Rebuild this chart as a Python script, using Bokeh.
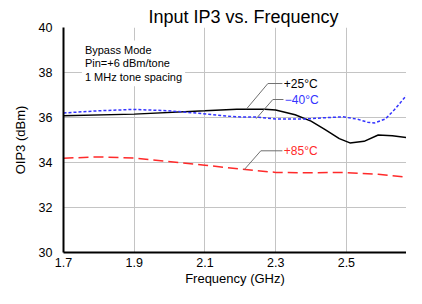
from bokeh.plotting import figure
from bokeh.models import Label, FixedTicker, Range1d
from bokeh.embed import file_html
from bokeh.resources import INLINE

# ---- data ----
f_25 = [1.70, 1.90, 2.10, 2.19, 2.27, 2.30, 2.355, 2.40, 2.44, 2.48, 2.51, 2.55, 2.59, 2.63, 2.70]
v_25 = [36.08, 36.15, 36.30, 36.37, 36.37, 36.33, 36.12, 35.84, 35.46, 35.06, 34.87, 34.94, 35.22, 35.19, 35.05]

f_m40 = [1.70, 1.80, 1.90, 1.995, 2.08, 2.15, 2.19, 2.245, 2.30, 2.38, 2.44, 2.49, 2.53, 2.56, 2.58, 2.61, 2.635, 2.665, 2.70]
v_m40 = [36.20, 36.30, 36.36, 36.30, 36.19, 36.08, 36.03, 36.02, 35.93, 35.93, 35.99, 36.03, 35.93, 35.79, 35.76, 35.93, 36.33, 36.89, 37.50]

f_85 = [1.70, 1.80, 1.90, 1.995, 2.10, 2.20, 2.30, 2.40, 2.49, 2.59, 2.70]
v_85 = [34.19, 34.25, 34.20, 34.05, 33.88, 33.71, 33.56, 33.54, 33.56, 33.48, 33.30]

x_ticks = [1.7, 1.9, 2.1, 2.3, 2.5, 2.7]
y_ticks = [30, 32, 34, 36, 38, 40]

# curve labels with leader lines (data units)
lab_text = ["+25°C", "\u221240°C", "+85°C"]
lab_color = ["#000000", "#3333ff", "#ff2a2a"]
lead_x = [[2.217, 2.278, 2.319], [2.245, 2.292, 2.322], [2.211, 2.258, 2.319]]
lead_y = [[36.37, 37.51, 37.51], [35.95, 36.80, 36.80], [33.68, 34.52, 34.52]]
note_lines = "Bypass Mode\nPin=+6 dBm/tone\n1 MHz tone spacing"

FONT = "Liberation Sans"

p = figure(width=406, height=288, output_backend="svg", toolbar_location=None,
           x_range=Range1d(1.7, 2.67), y_range=Range1d(30, 40),
           min_border_left=63, min_border_right=0, min_border_top=27, min_border_bottom=0,
           title="Input IP3 vs. Frequency")
p.outline_line_color = None
p.background_fill_color = "white"
p.border_fill_color = "white"

p.title.align = "left"
p.title.text_font = FONT
p.title.text_font_size = "18px"
p.title.text_font_style = "normal"
p.title.text_color = "#000000"
p.title.standoff = 2
p.title.offset = 85

for ax in (p.xaxis[0], p.yaxis[0]):
    ax.axis_line_color = "black"
    ax.axis_line_width = 2
    ax.major_tick_line_color = None
    ax.minor_tick_line_color = None
    ax.major_tick_out = 0
    ax.major_tick_in = 0
    ax.minor_tick_out = 0
    ax.major_label_text_font = FONT
    ax.major_label_text_font_size = "12.5px"
    ax.major_label_text_color = "#000000"
    ax.axis_label_text_font = FONT
    ax.axis_label_text_font_size = "13px"
    ax.axis_label_text_font_style = "normal"
    ax.axis_label_text_color = "#000000"

p.xaxis.ticker = FixedTicker(ticks=x_ticks)
p.yaxis.ticker = FixedTicker(ticks=y_ticks)
p.xaxis.axis_label = "Frequency (GHz)"
p.yaxis.axis_label = "OIP3 (dBm)"
p.xaxis.major_label_standoff = 5
p.yaxis.major_label_standoff = 11
p.xaxis.axis_label_standoff = 1
p.yaxis.axis_label_standoff = 8

p.xgrid.ticker = FixedTicker(ticks=x_ticks)
p.ygrid.ticker = FixedTicker(ticks=y_ticks)
p.grid.grid_line_color = "#c4c4c4"
p.grid.grid_line_width = 1

# curves
p.line(f_25, v_25, line_color="#000000", line_width=1.5)
p.line(f_m40, v_m40, line_color="#3333ff", line_width=1.5, line_dash="3 2")
p.line(f_85, v_85, line_color="#ff2a2a", line_width=1.5, line_dash="10 5")

# leader lines and labels
for t, c, lx, ly in zip(lab_text, lab_color, lead_x, lead_y):
    p.line(lx, ly, line_color="#707070", line_width=1)
    p.add_layout(Label(x=lx[-1] + 0.004, y=ly[-1], text=t, text_color=c,
                       text_font=FONT, text_font_size="12px",
                       text_baseline="middle", text_align="left"))

# note box
p.add_layout(Label(x=1.752, y=39.42, text=note_lines, text_font=FONT,
                   text_font_size="11px", text_color="#000000",
                   text_baseline="top", text_align="left",
                   background_fill_color="white", background_fill_alpha=1.0,
                   padding=3, text_line_height=1.15))

open("out.html", "w").write(file_html(p, INLINE))
